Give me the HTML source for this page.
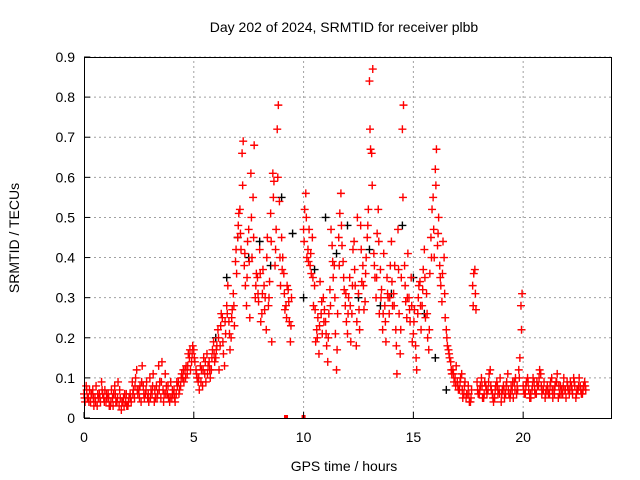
<!DOCTYPE html>
<html><head><meta charset="utf-8"><style>
html,body{margin:0;padding:0;background:#fff;}
svg{display:block;font-family:"Liberation Sans",sans-serif;}
</style></head><body>
<svg id="chart" width="640" height="480" viewBox="0 0 640 480" xmlns="http://www.w3.org/2000/svg">
<rect x="0" y="0" width="640" height="480" fill="#fff"/>
<g id="grid"></g>
<g id="marks"></g>
<g id="axes"></g>
<text x="344" y="32" font-size="14" text-anchor="middle">Day 202 of 2024, SRMTID for receiver plbb</text>
<text x="344" y="471" font-size="14" text-anchor="middle">GPS time / hours</text>
<text transform="translate(19,238) rotate(-90)" font-size="14" text-anchor="middle">SRMTID / TECUs</text>
</svg>
<script>
const xTicks=[0,5,10,15,20];
const yTicks=[0,0.1,0.2,0.3,0.4,0.5,0.6,0.7,0.8,0.9];
const yTickLabels=["0","0.1","0.2","0.3","0.4","0.5","0.6","0.7","0.8","0.9"];
const redAStart=0.0, redBStart=0.05, redCStart=0.025, redStep=0.1;
const redA=[0.06,0.08,0.05,0.04,0.07,0.05,0.03,0.06,0.09,0.05,
0.04,0.06,0.03,0.05,0.08,0.04,0.03,0.02,0.05,0.04,
0.03,0.06,0.09,0.05,0.12,0.07,0.04,0.08,0.06,0.05,
0.10,0.06,0.04,0.08,0.13,0.05,0.07,0.11,0.06,0.04,
0.05,0.07,0.06,0.09,0.08,0.10,0.12,0.11,0.15,0.14,
0.17,0.12,0.09,0.13,0.08,0.11,0.16,0.14,0.12,0.19,
0.15,0.22,0.18,0.25,0.13,0.28,0.24,0.20,0.31,0.39,
0.45,0.52,0.66,0.38,0.28,0.47,0.61,0.55,0.30,0.35,
0.42,0.26,0.33,0.22,0.28,0.51,0.61,0.38,0.72,0.54,
0.45,0.36,0.28,0.32,0.19,null,null,null,null,null,
0.47,0.56,0.42,0.38,0.45,0.33,0.22,0.16,0.26,0.30,
0.24,0.14,0.32,0.43,0.38,0.12,0.45,0.56,0.39,0.28,
0.21,0.35,0.26,0.44,0.18,0.31,0.48,0.38,0.29,0.45,
0.84,0.66,0.41,0.30,0.52,0.37,0.22,0.28,0.35,0.26,
0.44,0.31,0.22,0.47,0.16,0.72,0.38,0.25,0.30,0.35,
0.21,0.18,0.26,0.34,0.28,0.42,0.31,0.17,0.45,0.55,
0.62,0.43,0.38,0.29,0.40,0.22,0.17,0.14,0.12,0.10,
0.09,0.07,0.11,0.06,0.05,0.08,0.04,0.33,0.37,0.09,
0.06,0.10,0.05,0.08,0.07,0.12,0.06,0.05,0.09,0.07,
0.04,0.08,0.06,0.11,0.05,0.07,0.09,0.06,0.12,0.28,
0.08,0.06,0.10,0.05,0.07,0.09,0.06,0.08,0.11,0.07,
0.05,0.08,0.06,0.10,0.07,0.09,0.05,0.08,0.06,0.07,
0.09,0.06,0.08,0.10,0.05,0.07,0.08,0.06,0.09];
const redB=[0.04,0.05,0.07,0.06,0.03,0.08,0.05,0.04,0.06,0.07,
0.05,0.03,0.07,0.06,0.04,0.09,0.05,0.04,0.06,0.03,
0.05,0.04,0.07,0.10,0.06,0.08,0.13,0.05,0.09,0.04,
0.07,0.11,0.05,0.06,0.09,0.14,0.06,0.08,0.05,0.09,
0.06,0.04,0.08,0.07,0.11,0.09,0.13,0.16,0.12,0.18,
0.14,0.10,0.07,0.12,0.15,0.09,0.13,0.10,0.17,0.14,
0.18,0.12,0.26,0.16,0.21,0.33,0.17,0.27,0.23,0.36,
0.51,0.42,0.69,0.33,0.44,0.25,0.40,0.68,0.36,0.29,
0.24,0.37,0.30,0.45,0.34,0.19,0.59,0.47,0.78,0.33,
0.40,0.27,0.33,0.24,0.30,null,null,null,null,null,
0.52,0.40,0.47,0.36,0.28,0.19,0.25,0.34,0.21,0.27,
0.18,0.26,0.47,0.35,0.21,0.26,0.51,0.43,0.32,0.24,
0.30,0.19,0.42,0.33,0.50,0.22,0.34,0.27,0.40,0.52,
0.67,0.87,0.35,0.46,0.26,0.32,0.41,0.19,0.30,0.38,
0.28,0.38,0.11,0.26,0.35,0.78,0.29,0.41,0.24,0.19,
0.27,0.12,0.33,0.22,0.37,0.25,0.20,0.36,0.52,0.40,
0.67,0.50,0.33,0.44,0.25,0.18,0.15,0.11,0.09,0.13,
0.07,0.10,0.05,0.09,0.06,0.04,0.07,0.36,0.27,0.06,
0.08,0.05,0.09,0.06,0.11,0.07,0.04,0.08,0.06,0.10,
0.07,0.05,0.09,0.06,0.08,0.05,0.10,0.07,0.15,0.31,
0.06,0.09,0.07,0.05,0.10,0.06,0.08,0.12,0.06,0.09,
0.07,0.06,0.09,0.05,0.08,0.11,0.06,0.07,0.10,0.05,
0.07,0.09,0.06,0.08,0.07,0.10,0.06,0.08,0.07];
const redC=[0.05,0.07,0.04,0.06,0.05,0.04,0.06,0.05,0.07,0.04,
0.06,0.05,0.04,0.03,0.06,0.05,0.07,0.04,0.03,0.06,
0.04,0.05,0.06,0.08,0.07,0.05,0.09,0.06,0.07,0.06,
0.05,0.08,0.07,0.05,0.07,0.09,0.04,0.06,0.08,0.05,
0.07,0.05,0.09,0.06,0.10,0.12,0.10,0.13,0.17,0.16,
0.15,0.11,0.10,0.09,0.12,0.14,0.11,0.12,0.15,0.16,
0.17,0.20,0.23,0.19,0.24,0.26,0.21,0.25,0.28,0.42,
0.48,0.46,0.58,0.41,0.35,0.39,0.50,0.45,0.33,0.31,
0.36,0.31,0.27,0.40,0.30,0.44,0.55,0.42,0.60,0.40,
0.37,0.31,0.25,0.29,0.23,null,null,null,null,null,
0.44,0.50,0.39,0.41,0.35,0.27,0.20,0.23,0.29,0.24,
0.21,0.20,0.28,0.39,0.30,0.17,0.38,0.48,0.35,0.31,
0.26,0.28,0.33,0.37,0.24,0.27,0.42,0.33,0.36,0.48,
0.72,0.58,0.38,0.35,0.44,0.30,0.26,0.24,0.31,0.30,
0.34,0.28,0.18,0.37,0.22,0.55,0.33,0.30,0.27,0.28,
0.24,0.15,0.30,0.28,0.32,0.35,0.26,0.22,0.40,0.47,
0.58,0.46,0.35,0.36,0.31,0.20,0.16,0.12,0.11,0.08,
0.08,0.09,0.07,0.08,0.06,0.06,0.05,0.28,0.31,0.07,
0.07,0.08,0.06,0.07,0.09,0.08,0.05,0.07,0.08,0.06,
0.06,0.07,0.08,0.07,0.06,0.09,0.07,0.08,0.10,0.22,
0.07,0.08,0.09,0.06,0.08,0.07,0.09,0.10,0.08,0.07,
0.06,0.07,0.08,0.07,0.06,0.09,0.08,0.06,0.08,0.07,
0.08,0.07,0.07,0.09,0.06,0.08,0.07,0.07,0.08];
const blackStart=6.0, blackStep=0.5;
const blackVals=[0.20,0.35,0.45,0.40,0.44,0.38,0.55,0.46,0.30,0.37,0.50,0.41,0.48,0.30,0.42,0.28,0.31,0.48,0.35,0.26,0.15,0.07];
const zeroTimes=[9.2,10.0];

const X0=84,X1=611,Y0=418,Y1=57,XMAX=24,YMAX=0.9;
const xs=v=>X0+(X1-X0)*v/XMAX;
const ys=v=>Y0-(Y0-Y1)*v/YMAX;
const NS="http://www.w3.org/2000/svg";
function el(tag,attrs,parent){const e=document.createElementNS(NS,tag);for(const k in attrs)e.setAttribute(k,attrs[k]);parent.appendChild(e);return e;}
const grid=document.getElementById('grid'),marks=document.getElementById('marks'),axes=document.getElementById('axes');
xTicks.forEach(t=>{
  if(t>0){const g=el('line',{x1:xs(t),x2:xs(t),y1:Y0,y2:Y1,stroke:'#a0a0a0','stroke-dasharray':'2,3','stroke-width':1},grid);
  
  }
  const tk=el('line',{x1:xs(t),x2:xs(t),y1:Y0,y2:Y0-6,stroke:'#000'},axes);
  
  
  const tx=el('text',{x:xs(t),y:Y0+24,'font-size':14,'text-anchor':'middle'},axes);tx.textContent=t;
  
  
});
yTicks.forEach((t,i)=>{
  if(t>0){const g=el('line',{x1:X0,x2:X1,y1:ys(t),y2:ys(t),stroke:'#a0a0a0','stroke-dasharray':'2,3','stroke-width':1},grid);
  
  }
  const tk=el('line',{x1:X0,x2:X0+6,y1:ys(t),y2:ys(t),stroke:'#000'},axes);
  
  
  const tx=el('text',{x:X0-9,y:ys(t)+5,'font-size':14,'text-anchor':'end'},axes);tx.textContent=yTickLabels[i];
  
  
});
const frame=el('rect',{x:X0+0.5,y:Y1+0.5,width:X1-X0,height:Y0-Y1,fill:'none',stroke:'#000'},axes);


function plus(t,v,color,name){
  const x=xs(t),y=ys(v);
  const p=el('path',{d:`M${x-4} ${y}H${x+4}M${x} ${y-4}V${y+4}`,stroke:color,'stroke-width':1.4,fill:'none'},marks);
  
  
}
blackVals.forEach((v,i)=>{if(v!==null)plus(blackStart+i*blackStep,v,'#000','black-point');});
redA.forEach((v,i)=>{if(v!==null)plus(redAStart+i*redStep,v,'#ff0000','red-point');});
redB.forEach((v,i)=>{if(v!==null)plus(redBStart+i*redStep,v,'#ff0000','red-point');});
redC.forEach((v,i)=>{if(v!==null)plus(redCStart+i*redStep,v,'#ff0000','red-point');});
zeroTimes.forEach(t=>{
  const r=el('rect',{x:xs(t)-2,y:Y0-3,width:4,height:4,fill:'#ff0000'},marks);
  
  
});
</script>
</body></html>
